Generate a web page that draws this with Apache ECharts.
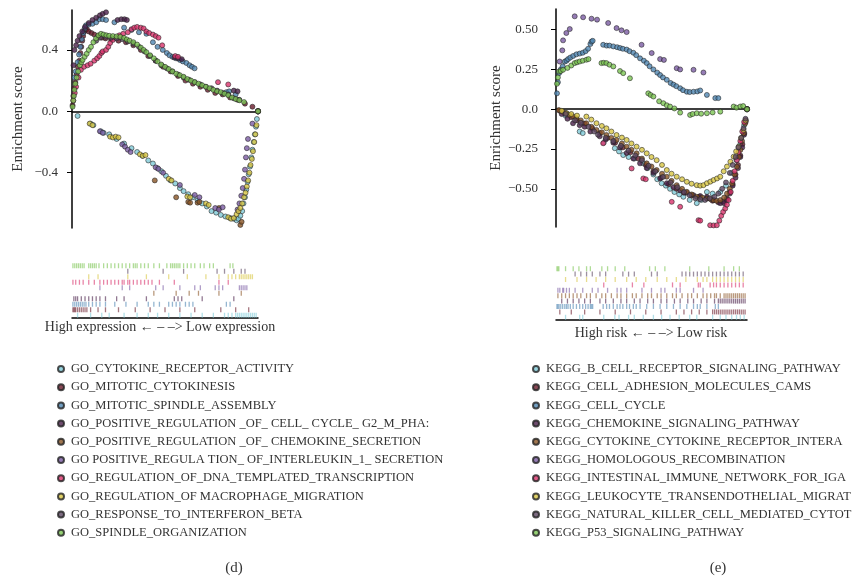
<!DOCTYPE html>
<html>
<head>
<meta charset="utf-8">
<script src="https://cdn.jsdelivr.net/npm/echarts@6/dist/echarts.min.js"></script>
<style>
  html, body { margin: 0; padding: 0; background: #fff; }
  #chart { width: 865px; height: 580px; }
</style>
</head>
<body>
<div id="chart"></div>
<script>
// ---- panel (d): GO running enrichment scores, x = rank position (0..100) ----
const goNames = [
    'GO_CYTOKINE_RECEPTOR_ACTIVITY',
    'GO_MITOTIC_CYTOKINESIS',
    'GO_MITOTIC_SPINDLE_ASSEMBLY',
    'GO_POSITIVE_REGULATION _OF_ CELL_ CYCLE_ G2_M_PHA:',
    'GO_POSITIVE_REGULATION _OF_ CHEMOKINE_SECRETION',
    'GO POSITIVE_REGULA TION_ OF_INTERLEUKIN_1_ SECRETION',
    'GO_REGULATION_OF_DNA_TEMPLATED_TRANSCRIPTION',
    'GO_REGULATION_OF MACROPHAGE_MIGRATION',
    'GO_RESPONSE_TO_INTERFERON_BETA',
    'GO_SPINDLE_ORGANIZATION'
];
const keggNames = [
    'KEGG_B_CELL_RECEPTOR_SIGNALING_PATHWAY',
    'KEGG_CELL_ADHESION_MOLECULES_CAMS',
    'KEGG_CELL_CYCLE',
    'KEGG_CHEMOKINE_SIGNALING_PATHWAY',
    'KEGG_CYTOKINE_CYTOKINE_RECEPTOR_INTERA',
    'KEGG_HOMOLOGOUS_RECOMBINATION',
    'KEGG_INTESTINAL_IMMUNE_NETWORK_FOR_IGA',
    'KEGG_LEUKOCYTE_TRANSENDOTHELIAL_MIGRAT',
    'KEGG_NATURAL_KILLER_CELL_MEDIATED_CYTOT',
    'KEGG_P53_SIGNALING_PATHWAY'
];
const palette = ['#7fcbd8', '#6a1c2c', '#4f86b2', '#4a1f4a', '#8a5526', '#7a5ba3', '#d9326c', '#d8c642', '#5b4661', '#7cc552'];

const dCytokineReceptor = [[3,-0.03],[10,-0.08],[11.5,-0.09],[15.5,-0.13],[17,-0.14],[20,-0.15],[24,-0.18],[28,-0.21],[32,-0.24],[35,-0.265],[38,-0.29],[41,-0.32],[43.5,-0.34],[46,-0.37],[48,-0.39],[50.5,-0.42],[53,-0.45],[55.5,-0.47],[58,-0.5],[60,-0.52],[62.5,-0.54],[65,-0.56],[67.5,-0.58],[70,-0.6],[72.5,-0.62],[75,-0.65],[77.5,-0.66],[80,-0.675],[82.5,-0.685],[85,-0.695],[87,-0.7],[88.5,-0.71],[89.5,-0.7],[90.5,-0.68],[91.5,-0.65],[92.2,-0.6],[93,-0.56],[93.7,-0.51],[94.4,-0.46],[95,-0.41],[95.7,-0.36],[96.4,-0.3],[97,-0.25],[97.7,-0.2],[98.3,-0.15],[98.9,-0.1],[99.4,-0.05],[100,0]];
const dCytokinesis = [[0.3,0.04],[0.7,0.1],[1.2,0.15],[1.8,0.19],[2.5,0.24],[3.2,0.29],[4,0.33],[4.5,0.38],[5,0.42],[5.5,0.46],[6,0.49],[6.6,0.52],[7.3,0.53],[8,0.535],[9,0.52],[10.5,0.51],[12,0.5],[14,0.49],[16,0.48],[18,0.475],[21,0.47],[25,0.46],[29,0.45],[33,0.43],[37,0.4],[41,0.36],[45,0.33],[49,0.29],[53,0.26],[57,0.23],[61,0.2],[65,0.18],[69,0.16],[73,0.14],[77,0.12],[81,0.11],[85,0.09],[89,0.075],[93,0.05],[97,0.03],[100,0]];
const dSpindleAssembly = [[1.3,0.22],[2,0.26],[3,0.32],[3.8,0.37],[4.5,0.42],[5.2,0.47],[6,0.51],[6.8,0.54],[7.5,0.56],[9,0.565],[11,0.57],[13,0.58],[14.7,0.6],[16.5,0.6],[18.3,0.595],[22.8,0.58],[28,0.545],[32,0.53],[36,0.515],[40,0.505],[43.5,0.45],[46,0.42],[48.8,0.4],[51,0.38],[52.4,0.365],[54,0.355],[56,0.345],[58,0.335],[59.6,0.325],[61.5,0.315],[63.2,0.3],[64.5,0.29],[65.9,0.28],[83,0.125],[84.5,0.13],[88,0.11],[100,0]];
const dG2M = [[0.8,0.3],[1.3,0.4],[2.2,0.43],[3,0.46],[4,0.49],[5.5,0.52],[7,0.55],[9,0.575],[11,0.595],[13,0.61],[15,0.625],[16.5,0.635],[18.3,0.645],[24.5,0.595],[26.5,0.6],[28.2,0.6],[29.5,0.595],[55,0.35],[57,0.345],[59,0.34],[87,0.135],[89,0.13],[100,0]];
const dChemokineSecretion = [[44.5,-0.45],[56,-0.56],[62.5,-0.59],[63.5,-0.595],[67.5,-0.595],[68.5,-0.59],[79,-0.63],[90.5,-0.74],[91.2,-0.72],[100,0]];
const dInterleukin = [[15,-0.13],[16.5,-0.14],[27,-0.215],[28.5,-0.23],[30,-0.25],[31.5,-0.265],[45,-0.365],[46.5,-0.375],[49,-0.4],[58,-0.48],[66,-0.545],[68.5,-0.56],[77,-0.63],[79,-0.64],[81,-0.625],[89,-0.64],[90,-0.6],[91,-0.55],[91.8,-0.5],[92.5,-0.44],[93,-0.38],[93.5,-0.3],[94,-0.24],[94.6,-0.18],[97,-0.08],[100,0]];
const dDnaTemplated = [[0.7,0.07],[1.5,0.12],[2.2,0.16],[3.5,0.22],[4.8,0.27],[6.5,0.29],[8.4,0.3],[10,0.31],[12,0.33],[13.5,0.345],[14.7,0.36],[15.8,0.38],[16.5,0.39],[18.3,0.4],[19.5,0.42],[20.5,0.445],[22,0.465],[23.5,0.48],[25.5,0.495],[27.5,0.505],[30,0.515],[32,0.535],[33.5,0.545],[35,0.55],[37,0.545],[38.5,0.54],[40,0.52],[41.5,0.51],[43.5,0.5],[45,0.49],[46.5,0.48],[48.5,0.43],[55.5,0.36],[57,0.355],[78.5,0.19],[84,0.175],[100,0]];
const dMacrophage = [[9.5,-0.08],[11,-0.09],[20.5,-0.165],[22,-0.17],[23.5,-0.165],[25,-0.17],[36.5,-0.28],[38,-0.29],[39.5,-0.285],[52,-0.44],[53.5,-0.45],[62,-0.555],[63.5,-0.56],[72,-0.6],[73.5,-0.61],[84,-0.69],[85.5,-0.7],[87,-0.695],[88.5,-0.67],[89.5,-0.65],[90.5,-0.63],[91.5,-0.6],[92.5,-0.56],[93.3,-0.53],[94,-0.49],[94.7,-0.45],[95.4,-0.4],[96,-0.35],[96.7,-0.31],[97.3,-0.26],[98,-0.2],[98.6,-0.15],[99.2,-0.09],[100,0]];
const dInterferon = [[13,0.46],[15,0.48],[18,0.485],[21,0.48],[24,0.475],[27,0.47],[30,0.455],[33,0.44],[36,0.42],[39,0.39],[42,0.36],[45,0.33],[48,0.3],[51,0.28],[54,0.26],[57,0.24],[60,0.22],[63,0.205],[66,0.19],[69,0.175],[72,0.16],[75,0.15],[78,0.135],[81,0.12],[84,0.11],[87,0.085],[90,0.075],[100,0]];
const dSpindleOrg = [[0.3,0.03],[0.7,0.07],[1,0.1],[1.3,0.14],[1.8,0.18],[2.5,0.22],[3.3,0.26],[4.2,0.3],[5,0.32],[5.7,0.335],[6.8,0.355],[7.9,0.375],[9,0.4],[10.2,0.42],[11.5,0.45],[12.9,0.475],[14.2,0.495],[15.6,0.505],[17,0.5],[18.5,0.495],[20,0.492],[22,0.49],[24,0.488],[26,0.485],[28,0.478],[29.5,0.468],[31,0.46],[33,0.45],[35,0.435],[37,0.415],[38.5,0.4],[40,0.385],[42,0.365],[44,0.345],[46,0.325],[48,0.305],[50,0.29],[52,0.275],[54,0.26],[56,0.245],[58,0.235],[60,0.225],[62,0.21],[64,0.2],[66,0.19],[68,0.18],[70,0.17],[72,0.16],[74,0.15],[76,0.14],[78,0.13],[80,0.125],[82,0.115],[84,0.105],[86,0.09],[88,0.08],[90,0.072],[92.5,0.06],[100,0]];

// hit positions (barcode) for panel (d)
const dHitsCytokineReceptor = [3,10,16,20,28,35,41,46,52,58,64,70,76,82,84,86,88,89,90,91,92,93,94,95,96,97,98,99];
const dHitsCytokinesis = [0.5,1,1.5,2,3,4,5,6,7,8,10,14,18,25,34,42,50,58,66,80,88,95];
const dHitsSpindleAssembly = [0.5,1.5,2.5,3.5,4.5,5.5,6.5,7.5,9,11,13,15,18,23,29,35,41,44,47,52,54,56,58,61,63,65,83,85];
const dHitsG2M = [1,2,3,5,7,9,11,13,15,18,24,28,40,55,57,59,70,87];
const dHitsChemokineSecretion = [44,56,63,68,79,91];
const dHitsInterleukin = [15,27,31,45,49,58,66,69,77,79,81,90,91,92,93,94];
const dHitsDnaTemplated = [0.5,2,4,6,9,12,15,17,19,21,23,25,27,28,30,31,33,35,37,39,41,43,47,55,79,84];
const dHitsMacrophage = [9,14,30,40,52,62,72,79,84,86,88,90,91,92,93,94,95,96,97];
const dHitsInterferon = [30,49,60,78,82,87,91,93];
const dHitsSpindleOrg = [0.5,1.5,2.5,3.5,4.5,5.5,6.5,9,10,11,12,13,14.5,17,19,21,23,25,27,29,31,33,34,35,37,39,41,44,47,51,53,54,55,56,57,58,60,62,64,66,69,71,74,76,85,86.5];

// ---- panel (e): KEGG running enrichment scores ----
const eBCell = [[5,-0.04],[12.4,-0.14],[14,-0.15],[25,-0.21],[30.8,-0.245],[33,-0.265],[35.2,-0.288],[38,-0.3],[41,-0.31],[45.7,-0.34],[48,-0.37],[51,-0.41],[53,-0.44],[55.3,-0.465],[57.5,-0.48],[59.7,-0.5],[62,-0.52],[64.5,-0.535],[66.7,-0.55],[70,-0.57],[73.7,-0.59],[76,-0.57],[79,-0.52],[82,-0.53],[86,-0.52],[89,-0.48],[92,-0.4],[94.5,-0.32],[96.5,-0.22],[98.5,-0.1],[100,0]];
const eCellAdhesion = [[2,-0.01],[5,-0.025],[8,-0.05],[11,-0.07],[15,-0.09],[19,-0.12],[23,-0.15],[27,-0.18],[31,-0.21],[35,-0.24],[39,-0.27],[43,-0.31],[47,-0.35],[51,-0.39],[55,-0.43],[59,-0.47],[63,-0.5],[67,-0.525],[71,-0.54],[75,-0.55],[79,-0.56],[82,-0.575],[85,-0.585],[87.5,-0.58],[89.5,-0.56],[91,-0.52],[92.5,-0.47],[94,-0.41],[95.3,-0.35],[96.5,-0.29],[97.6,-0.22],[98.6,-0.15],[99.4,-0.07],[100,0]];
const eCellCycle = [[0.5,0.1],[1,0.17],[1.6,0.227],[2.5,0.25],[3.5,0.27],[4.6,0.3],[5.5,0.305],[6.3,0.315],[7.5,0.325],[9,0.335],[10.7,0.345],[12.4,0.35],[14,0.355],[15.5,0.365],[16.8,0.38],[18,0.41],[18.6,0.425],[19.2,0.43],[24.7,0.405],[26.5,0.4],[28,0.4],[30,0.395],[32,0.39],[33.5,0.385],[35,0.38],[37,0.375],[38.5,0.365],[40.5,0.355],[42,0.34],[44,0.32],[46,0.305],[47.5,0.29],[49,0.27],[51,0.25],[53,0.23],[54.5,0.215],[56,0.2],[58,0.185],[60,0.165],[61.5,0.155],[63,0.145],[65,0.132],[66.5,0.12],[68.5,0.11],[70,0.108],[72,0.11],[74,0.112],[75.5,0.118],[79,0.09],[83.4,0.07],[85,0.07],[100,0]];
const eChemokine = [[3,-0.03],[6,-0.06],[8.9,-0.088],[12.4,-0.1],[15,-0.11],[18,-0.14],[22.9,-0.17],[26,-0.19],[30,-0.21],[33.5,-0.24],[37,-0.275],[40.5,-0.31],[44,-0.34],[47.5,-0.37],[51,-0.4],[54.5,-0.435],[58,-0.465],[61.5,-0.49],[65,-0.51],[68.5,-0.525],[72,-0.54],[75.5,-0.545],[79,-0.55],[82.5,-0.57],[86,-0.59],[88,-0.59],[89.5,-0.57],[91,-0.53],[92.5,-0.48],[94,-0.43],[95.3,-0.37],[96.5,-0.3],[97.5,-0.24],[98.5,-0.16],[99.3,-0.08],[100,0]];
const eCytokine = [[1.5,-0.005],[3.5,-0.015],[5.5,-0.025],[7.2,-0.036],[9,-0.045],[10.7,-0.057],[13,-0.07],[15.9,-0.088],[18.5,-0.11],[21.2,-0.13],[24,-0.145],[26.4,-0.162],[29,-0.18],[31.7,-0.193],[34.5,-0.215],[37,-0.235],[39.5,-0.255],[42.2,-0.277],[45,-0.31],[47.5,-0.34],[50,-0.36],[52.7,-0.382],[55.5,-0.405],[58,-0.424],[60.5,-0.45],[63.2,-0.477],[66,-0.5],[68.5,-0.519],[71,-0.535],[73.7,-0.55],[76.5,-0.555],[79,-0.561],[81,-0.566],[82.5,-0.571],[84,-0.575],[86,-0.571],[88,-0.555],[89.5,-0.53],[91,-0.5],[92.1,-0.466],[93.5,-0.41],[94.7,-0.361],[95.7,-0.3],[96.5,-0.256],[97.4,-0.2],[98.2,-0.151],[99,-0.09],[100,0]];
const eHomologous = [[1.9,0.3],[3.3,0.37],[3.7,0.433],[5.4,0.479],[7.2,0.504],[9.8,0.584],[14.2,0.578],[18.6,0.569],[21.5,0.563],[27.3,0.542],[31.7,0.51],[34.3,0.496],[37,0.485],[44.8,0.405],[50.1,0.353],[54.5,0.315],[56.5,0.31],[63.2,0.258],[65,0.25],[72,0.248],[77.2,0.231],[100,0]];
const eIntestinal = [[24.7,-0.214],[39.6,-0.372],[45.7,-0.435],[47,-0.44],[60.6,-0.582],[65,-0.613],[74.6,-0.697],[75.5,-0.7],[80.7,-0.729],[82.5,-0.73],[84.2,-0.729],[85.5,-0.7],[86.5,-0.67],[87.5,-0.645],[88.6,-0.624],[89.5,-0.6],[90.4,-0.571],[91.5,-0.52],[92.5,-0.45],[93.5,-0.39],[94.7,-0.32],[95.5,-0.27],[96.5,-0.2],[97.5,-0.14],[98.5,-0.08],[100,0]];
const eLeukocyte = [[3,-0.01],[5.4,-0.025],[8,-0.03],[11,-0.04],[15.9,-0.046],[18.5,-0.065],[21.2,-0.088],[24,-0.105],[26.4,-0.12],[29,-0.14],[31.7,-0.162],[34.5,-0.178],[37,-0.193],[39.5,-0.215],[42.2,-0.235],[45,-0.255],[47.5,-0.277],[50,-0.3],[52.7,-0.32],[55.5,-0.35],[58,-0.382],[60.5,-0.405],[63.2,-0.424],[66,-0.44],[68.5,-0.456],[71,-0.468],[73.7,-0.477],[75.5,-0.48],[77.2,-0.477],[79,-0.465],[80.8,-0.455],[82.5,-0.445],[84.3,-0.435],[86,-0.424],[87.8,-0.39],[89.5,-0.36],[91.3,-0.33],[93,-0.298],[94.3,-0.265],[95.6,-0.235],[96.9,-0.18],[98.2,-0.13],[99.2,-0.07],[100,0]];
const eNK = [[5,-0.03],[10,-0.07],[13,-0.085],[17,-0.11],[20,-0.14],[22,-0.16],[26,-0.18],[30,-0.2],[34,-0.23],[38,-0.26],[41.5,-0.29],[45,-0.32],[48.5,-0.355],[52,-0.39],[56,-0.425],[60,-0.46],[63.5,-0.49],[67,-0.52],[70,-0.54],[73,-0.56],[75.5,-0.565],[78,-0.57],[80.5,-0.56],[83,-0.55],[85,-0.53],[87,-0.5],[89,-0.46],[91,-0.4],[92.5,-0.35],[94,-0.3],[95.5,-0.24],[97,-0.18],[98.2,-0.12],[99.2,-0.06],[100,0]];
const eP53 = [[0.5,0.16],[1,0.2],[1.6,0.237],[2.5,0.24],[3.7,0.248],[6,0.26],[8,0.275],[9.8,0.29],[11,0.295],[12.4,0.3],[14,0.305],[15.9,0.311],[17,0.315],[23.8,0.29],[25,0.292],[26.4,0.29],[28,0.28],[30,0.269],[33.5,0.24],[35.2,0.227],[38.7,0.195],[48.3,0.1],[49.5,0.09],[51,0.08],[54,0.05],[56.2,0.038],[58,0.025],[59.7,0.017],[62,0.005],[65,-0.021],[70.2,-0.036],[71.5,-0.03],[73.7,-0.025],[76,-0.028],[79,-0.025],[82,-0.02],[86,-0.015],[93,0.017],[94.5,0.01],[96.5,0.017],[98,0.02],[100,0]];

// hit positions (barcode) for panel (e)
const eHitsBCell = [5,12.4,14,25,30.8,33,38,41,45.7,51,55.3,59.7,64.5,70,73.7,82,86,89,92,94.5,96.5,98.5];
const eHitsCellAdhesion = [2,8,15,23,31,39,47,55,63,67,71,75,79,82,83,84,85,86,87,88,89,90,91,92,93,94,95,96,97,98,99];
const eHitsCellCycle = [0.5,1,1.6,2.5,3.5,4.6,5.5,6.3,7.5,9,10.7,12.4,14,15.5,16.8,18,18.6,19.2,24.7,26.5,28,30,32,33.5,35,37,38.5,40.5,42,44,47.5,51,54.5,58,61.5,65,68.5,72,74,75.5,79,83.4,85];
const eHitsChemokine = [3,6,9,12,15,18,23,26,30,34,37,41,44,48,51,55,58,62,65,69,72,76,79,83,85,86,87,88,89,90,91,92,93,94,95,96,97,98,99];
const eHitsCytokine = [1,3,5,7,9,11,13,16,18,21,24,26,29,32,34,37,40,42,45,48,50,53,55,58,61,63,66,69,71,74,77,79,81,83,84,86,88,89,90,91,92,93,94,95,96,97,98,99];
const eHitsHomologous = [1,2,3.5,4,5.5,7,10,14,19,22,27,32,34,37,45,50,55,57,63,65,72,77];
const eHitsIntestinal = [25,40,46,61,65,74.5,75.5,80.7,82.5,84,86,88,90,92,94,96,98];
const eHitsLeukocyte = [5,11,16,21,26,31,37,42,47,53,58,63,68,74,77,79,82,84,86,88,90,92,94,96,98];
const eHitsNK = [10,13,16,19,23,26,35,38,41,50,53,66,68,70,72,74,76,78,80,82,84,86,88,90,92,94,96,98];
const eHitsP53 = [0.5,1,1.5,5,9,12,16,18,24,27,31,36,49,52,57,70,80,88,93,96];

const goCurves = [dCytokineReceptor, dCytokinesis, dSpindleAssembly, dG2M, dChemokineSecretion, dInterleukin, dDnaTemplated, dMacrophage, dInterferon, dSpindleOrg];
const goHits = [dHitsCytokineReceptor, dHitsCytokinesis, dHitsSpindleAssembly, dHitsG2M, dHitsChemokineSecretion, dHitsInterleukin, dHitsDnaTemplated, dHitsMacrophage, dHitsInterferon, dHitsSpindleOrg];
const keggCurves = [eBCell, eCellAdhesion, eCellCycle, eChemokine, eCytokine, eHomologous, eIntestinal, eLeukocyte, eNK, eP53];
const keggHits = [eHitsBCell, eHitsCellAdhesion, eHitsCellCycle, eHitsChemokine, eHitsCytokine, eHitsHomologous, eHitsIntestinal, eHitsLeukocyte, eHitsNK, eHitsP53];

const serif = 'Liberation Serif';
const txt = '#333';
const minus = s => s.replace('-', '\u2212');

const scoreAxis = (gridIndex, min, max, ticks, digits, nameGap, margin) => ({
    type: 'value', gridIndex, min, max,
    name: 'Enrichment score', nameLocation: 'middle', nameRotate: 90, nameGap,
    nameTextStyle: { fontFamily: serif, fontSize: 15, color: txt },
    splitLine: { show: false },
    axisLine: { show: true, lineStyle: { color: '#000', width: 1.5 } },
    axisTick: { show: true, length: 5, customValues: ticks, lineStyle: { color: '#000' } },
    axisLabel: {
        customValues: ticks, margin, fontFamily: serif, fontSize: 13, color: txt,
        formatter: v => v === 0 ? '0.0' : minus(v.toFixed(digits))
    }
});
const rankAxis = (gridIndex) => ({
    type: 'value', gridIndex, min: 0, max: 100,
    axisLine: { show: true, onZero: true, lineStyle: { color: '#000', width: 1.5 } },
    axisTick: { show: false }, axisLabel: { show: false }, splitLine: { show: false }
});
const rowAxis = (gridIndex, names) => ({
    type: 'category', gridIndex, data: names, show: false, boundaryGap: true
});

const series = [];
const addPanel = (names, curves, hits, mainAxis, barAxis) => {
    names.forEach((name, i) => {
        series.push({
            name, type: 'scatter', xAxisIndex: mainAxis, yAxisIndex: mainAxis,
            data: curves[i], symbol: 'circle', symbolSize: 5,
            itemStyle: { color: palette[i], borderColor: '#222', borderWidth: 0.7 },
            z: 2 + i
        });
    });
    names.forEach((name, i) => {
        series.push({
            name: name + ' hits', type: 'scatter', xAxisIndex: barAxis, yAxisIndex: barAxis,
            data: hits[i].map(x => [x, i]), symbol: 'rect', symbolSize: [1.3, 5],
            itemStyle: { color: palette[i], opacity: 0.6 }
        });
    });
};
addPanel(goNames, goCurves, goHits, 0, 1);
addPanel(keggNames, keggCurves, keggHits, 2, 3);

const legendOf = (names, left) => ({
    data: names, orient: 'vertical', left, top: 357, itemGap: 4.2,
    itemWidth: 10, itemHeight: 6, icon: 'circle', selectedMode: false,
    textStyle: { fontFamily: serif, fontSize: 12.5, color: txt, lineHeight: 14 }
});

const chart = echarts.init(document.getElementById('chart'));
chart.setOption({
    animation: false,
    backgroundColor: '#fff',
    grid: [
        { left: 72, top: 10, width: 186, height: 218 },
        { left: 72, top: 263, width: 186, height: 55 },
        { left: 556, top: 9, width: 191, height: 218 },
        { left: 556, top: 266, width: 191, height: 54 }
    ],
    xAxis: [rankAxis(0), rankAxis(1), rankAxis(2), rankAxis(3)],
    yAxis: [
        scoreAxis(0, -0.76, 0.66, [-0.4, 0, 0.4], 1, 46, 14),
        rowAxis(1, goNames),
        scoreAxis(2, -0.74, 0.63, [-0.5, -0.25, 0, 0.25, 0.5], 2, 50, 18),
        rowAxis(3, keggNames)
    ],
    legend: [legendOf(goNames, 52), legendOf(keggNames, 527)],
    graphic: [
        { type: 'text', x: 160, y: 327, style: { text: 'High expression \u2190 \u2013 \u2013> Low expression', font: '14px "Liberation Serif"', fill: txt, align: 'center', verticalAlign: 'middle' } },
        { type: 'text', x: 651, y: 333, style: { text: 'High risk \u2190 \u2013 \u2013> Low risk', font: '14px "Liberation Serif"', fill: txt, align: 'center', verticalAlign: 'middle' } },
        { type: 'text', x: 234, y: 568, style: { text: '(d)', font: '15px "Liberation Serif"', fill: txt, align: 'center', verticalAlign: 'middle' } },
        { type: 'text', x: 718, y: 568, style: { text: '(e)', font: '15px "Liberation Serif"', fill: txt, align: 'center', verticalAlign: 'middle' } }
    ],
    series
});
</script>
</body>
</html>
